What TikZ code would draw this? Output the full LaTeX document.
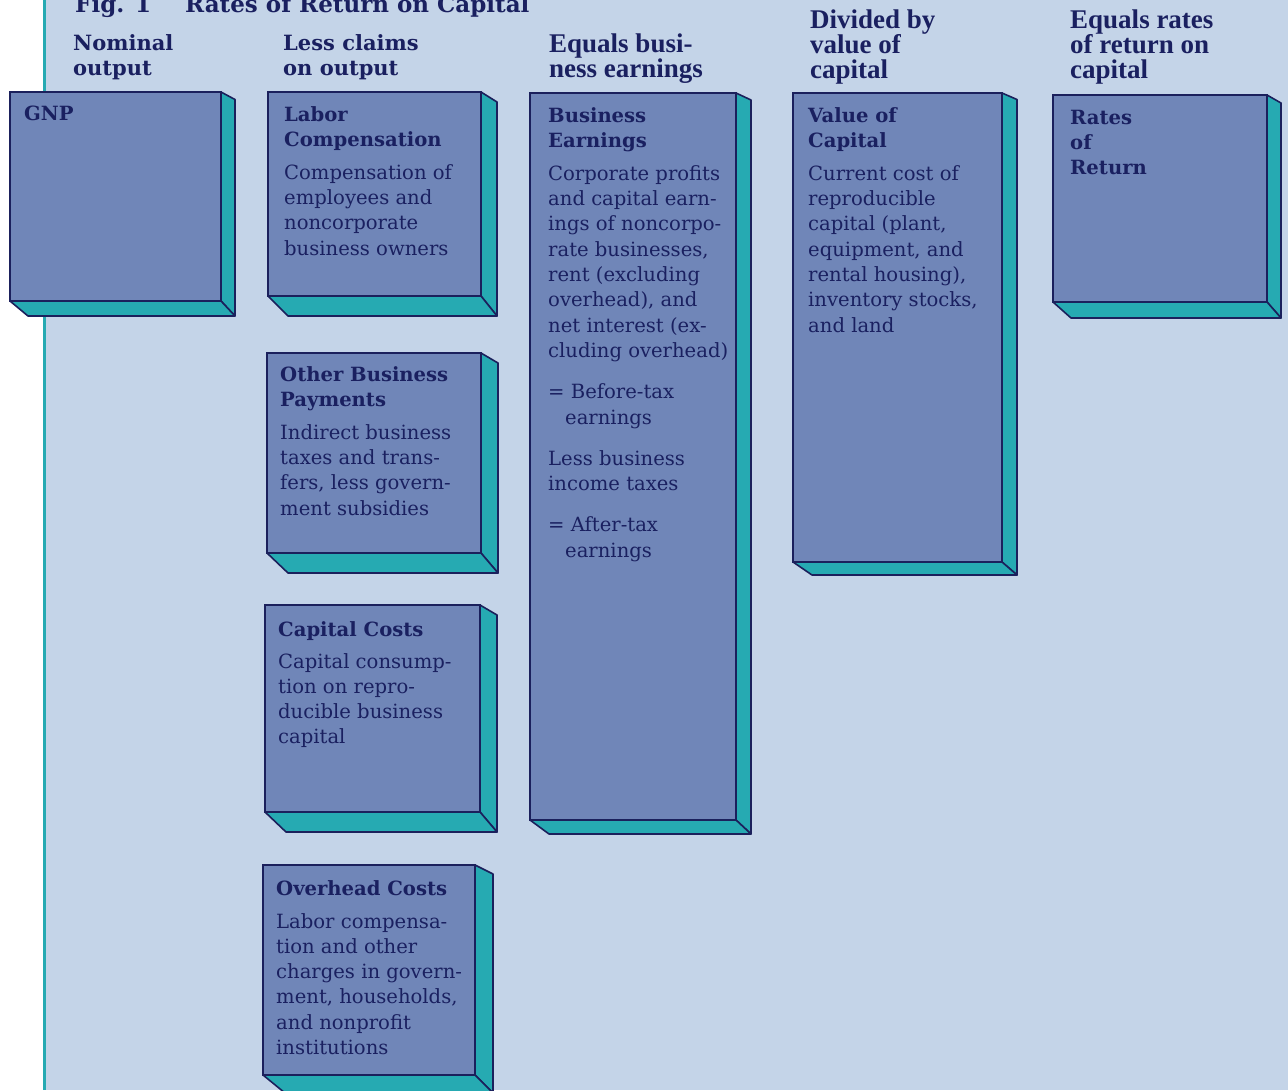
\documentclass[tikz,border=0pt]{standalone}
\usepackage{fontspec}
\setmainfont{DejaVu Serif}
\newfontfamily\hdfont{Liberation Serif}
\definecolor{bg}{HTML}{C4D4E8}
\definecolor{facecol}{HTML}{7086B8}
\definecolor{tealcol}{HTML}{26AAB2}
\definecolor{edgecol}{HTML}{1B205C}
\definecolor{ink}{HTML}{1A2060}
\newcommand\boxthreed[7]{% name, x1,y1,x2,y2,dx,dy
  \coordinate (#1) at (#2,#3);
  \fill[facecol] (#2,#3) rectangle (#4,#5);
  \filldraw[sideface] (#4,#3) -- (#4+#6,#3+#7/2) -- (#4+#6,#5+#7) -- (#4,#5) -- cycle;
  \filldraw[sideface] (#2,#5) -- (#4,#5) -- (#4+#6,#5+#7) -- (#2+#6+4,#5+#7) -- cycle;
  \draw[frontedge] (#2,#3) rectangle (#4,#5);
}
\newcommand\bx[1]{\parbox[t]{240pt}{\raggedright\fontsize{19.6}{25.3}\selectfont #1}}
\newcommand\hd[1]{\parbox[t]{240pt}{\raggedright\fontsize{21}{25}\selectfont\bfseries #1}}
\newcommand\hdc[1]{\parbox[t]{240pt}{\raggedright\hdfont\fontsize{27}{25}\selectfont\bfseries #1}}
\begin{document}
\begin{tikzpicture}[x=1pt,y=-1pt,
  sideface/.style={fill=tealcol,draw=edgecol,line width=1.6pt,line join=round},
  frontedge/.style={draw=edgecol,line width=1.6pt},
  txt/.style={anchor=base west,inner sep=0pt,text=ink}]
\useasboundingbox (0,0) rectangle (1288,1090);
\fill[bg] (0,0) rectangle (1288,1090);
\fill[white] (0,0) rectangle (43,1090);
\fill[tealcol] (43,0) rectangle (46,1090);

% title
\node[txt] (figno) at (75,12) {\fontsize{23}{26}\selectfont\bfseries Fig. 1};
\node[txt] (title) at (185,12) {\fontsize{23}{26}\selectfont\bfseries Rates of Return on Capital};

% column headers
\node[txt] (h1) at (73,50) {\hd{Nominal\\output}};
\node[txt] (h2) at (283,50) {\hd{Less claims\\on output}};
\node[txt] (h3) at (549,52) {\hdc{Equals busi-\\ness earnings}};
\node[txt] (h4) at (810,28) {\hdc{Divided by\\value of\\capital}};
\node[txt] (h5) at (1070,28) {\hdc{Equals rates\\of return on\\capital}};

% boxes
\boxthreed{gnp}{10}{92}{221}{301}{14}{15}
\boxthreed{labor}{268}{92}{481}{296}{16}{20}
\boxthreed{other}{267}{353}{481}{553}{17}{20}
\boxthreed{capc}{265}{605}{480}{812}{17}{20}
\boxthreed{over}{263}{865}{475}{1075}{18}{18}
\boxthreed{busE}{530}{93}{736}{820}{15}{14}
\boxthreed{valC}{793}{93}{1002}{562}{15}{13}
\boxthreed{ror}{1053}{95}{1267}{302}{14}{16}

% box texts
\node[txt] (gnpT) at (24,120) {\bx{\bfseries GNP}};
\node[txt] (laborT) at (284,121) {\bx{\textbf{Labor}\\\textbf{Compensation}\\[7.7pt]
  Compensation of\\employees and\\noncorporate\\business owners}};
\node[txt] (otherT) at (280,381) {\bx{\textbf{Other Business}\\\textbf{Payments}\\[7.7pt]
  Indirect business\\taxes and trans-\\fers, less govern-\\ment subsidies}};
\node[txt] (capcT) at (278,636) {\bx{\textbf{Capital Costs}\\[6.7pt]
  Capital consump-\\tion on repro-\\ducible business\\capital}};
\node[txt] (overT) at (276,895) {\bx{\textbf{Overhead Costs}\\[7.7pt]
  Labor compensa-\\tion and other\\charges in govern-\\ment, households,\\and nonprofit\\institutions}};
\node[txt] (busET) at (548,122) {\bx{\textbf{Business}\\\textbf{Earnings}\\[7.7pt]
  Corporate profits\\and capital earn-\\ings of noncorpo-\\rate businesses,\\rent (excluding\\overhead), and\\net interest (ex-\\cluding overhead)\\[16pt]
  = Before-tax\\\hspace*{17pt}earnings\\[16pt]
  Less business\\income taxes\\[16pt]
  = After-tax\\\hspace*{17pt}earnings}};
\node[txt] (valCT) at (808,122) {\bx{\textbf{Value of}\\\textbf{Capital}\\[7.7pt]
  Current cost of\\reproducible\\capital (plant,\\equipment, and\\rental housing),\\inventory stocks,\\and land}};
\node[txt] (rorT) at (1070,124) {\bx{\textbf{Rates}\\\textbf{of}\\\textbf{Return}}};
\end{tikzpicture}
\end{document}
